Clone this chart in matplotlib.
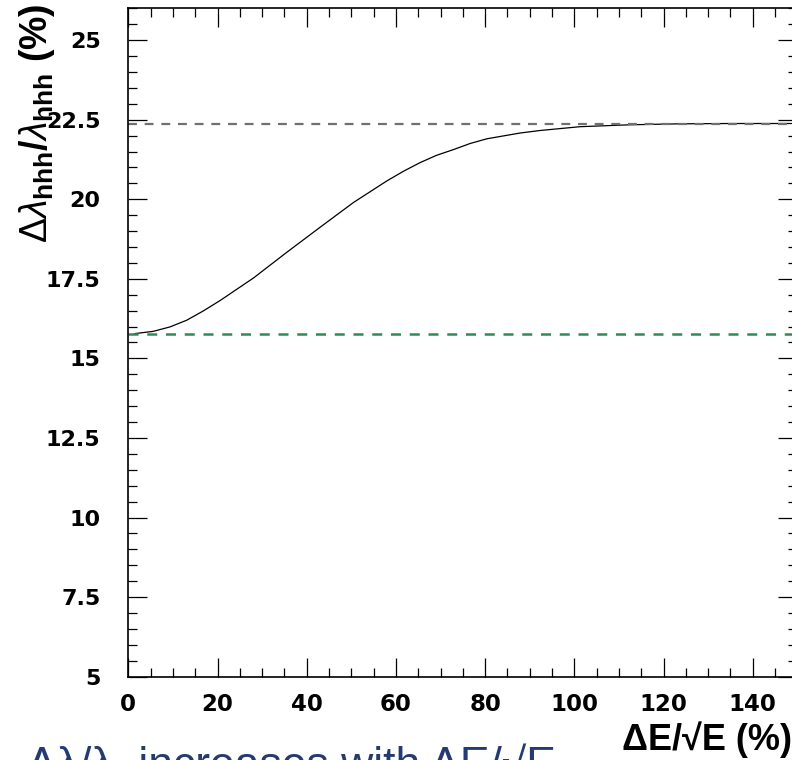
import matplotlib
matplotlib.use('Agg')
import matplotlib.pyplot as plt
from matplotlib.ticker import MultipleLocator, FuncFormatter

plt.rcParams['font.family'] = ['Liberation Sans', 'DejaVu Sans']
plt.rcParams['mathtext.fontset'] = 'custom'
plt.rcParams['mathtext.rm'] = 'Liberation Sans'
plt.rcParams['mathtext.bf'] = 'Liberation Sans:bold'
plt.rcParams['mathtext.it'] = 'Liberation Sans:italic'

# kurve lambda_hhh resolution vs energy resolution
res_x = [1.5, 5.6, 9.35, 13.1, 16.8, 20.6, 24.3, 28.1, 35.5, 43.0, 50.5, 57.9, 61.7,
         65.4, 69.1, 72.9, 76.6, 80.4, 87.8, 92.3, 101.3, 112.5, 123.7, 135.0, 150.0]
res_y = [15.78, 15.85, 15.99, 16.20, 16.49, 16.82, 17.17, 17.53, 18.33, 19.12, 19.90, 20.57, 20.88,
         21.15, 21.38, 21.56, 21.75, 21.90, 22.08, 22.16, 22.28, 22.34, 22.37, 22.38, 22.38]
limit_worst = 22.375
limit_best = 15.78

x_ticks = [0, 20, 40, 60, 80, 100, 120, 140]

fig = plt.figure(figsize=(7.92, 7.6), dpi=100)
ax = fig.add_axes([0.162, 0.1096, 0.8447, 0.8795])

ax.plot(res_x, res_y, color='black', lw=0.9)
ax.axhline(limit_worst, color='#707070', lw=1.6, dashes=(4, 3.5))
ax.axhline(limit_best, color='#2e8b57', lw=1.8, dashes=(4, 3.5))

ax.set_xlim(0, 150)
ax.set_ylim(5, 26)
ax.set_xticks(x_ticks)
ax.xaxis.set_minor_locator(MultipleLocator(5))
ax.yaxis.set_major_locator(MultipleLocator(2.5))
ax.yaxis.set_minor_locator(MultipleLocator(0.5))
ax.yaxis.set_major_formatter(FuncFormatter(lambda v, p: '%g' % v))

ax.tick_params(which='both', direction='in', top=True, right=True, width=0.9)
ax.tick_params(which='major', length=13.5)
ax.tick_params(which='minor', length=6.5)
ax.tick_params(axis='x', pad=11.5, labelsize=16.5)
ax.tick_params(axis='y', pad=20, labelsize=16)
for lab in ax.get_xticklabels() + ax.get_yticklabels():
    lab.set_fontweight('bold')
    lab.set_family('DejaVu Sans')
for s in ax.spines.values():
    s.set_linewidth(1.2)

fig.text(0.047, 0.995, r'$\Delta\lambda_{\mathbf{hhh}}\mathbf{/}\lambda_{\mathbf{hhh}}$ (%)',
         rotation=90, ha='center', va='top', fontsize=27, fontweight='bold')
fig.text(1.0, 0.0132, 'ΔE/√E (%)', ha='right', va='baseline', fontsize=26, fontweight='bold')
fig.text(0.034, -0.0237, 'Δλ/λ  increases with ΔE/√E', ha='left', va='baseline',
         fontsize=32, color='#233a73')

fig.savefig('out.png', dpi=100)
